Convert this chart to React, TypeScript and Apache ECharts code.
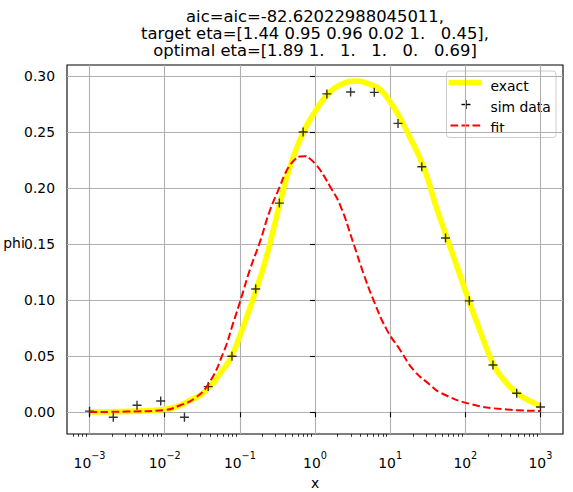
import React, { useEffect, useRef } from "react";
import * as echarts from "echarts";

const FONT = "DejaVu Sans";

const titleLines = [
  "aic=aic=-82.62022988045011,",
  "target eta=[1.44 0.95 0.96 0.02 1.   0.45],",
  "optimal eta=[1.89 1.   1.   1.   0.   0.69]",
];

// x values are stored as log10(x)
const simLogX = [-3, -2.684, -2.368, -2.053, -1.737, -1.421, -1.105, -0.789, -0.474, -0.158, 0.158, 0.474, 0.789, 1.105, 1.421, 1.737, 2.053, 2.368, 2.684, 3];
const simY = [0.001, -0.0045, 0.0063, 0.01, -0.0045, 0.0229, 0.05, 0.11, 0.1866, 0.25, 0.284, 0.2857, 0.2854, 0.2577, 0.219, 0.1554, 0.0994, 0.0422, 0.017, 0.0047];

const exactLogX = [-3, -2.5, -2, -1.8, -1.667, -1.5, -1.356, -1.25, -1.133, -1, -0.8, -0.644, -0.467, -0.333, -0.2, -0.1, 0, 0.156, 0.35, 0.556, 0.75, 0.867, 1, 1.133, 1.25, 1.444, 1.6, 1.756, 1.9, 2.044, 2.2, 2.378, 2.5, 2.689, 2.85, 3];
const exactY = [0.0003, 0.0008, 0.0025, 0.006, 0.0105, 0.0165, 0.0262, 0.0358, 0.047, 0.068, 0.106, 0.139, 0.1866, 0.219, 0.243, 0.257, 0.268, 0.2825, 0.2925, 0.2955, 0.292, 0.2878, 0.277, 0.2625, 0.247, 0.219, 0.186, 0.1554, 0.128, 0.1003, 0.072, 0.0422, 0.030, 0.017, 0.0105, 0.0056];

const fitLogX = [-3, -2.5, -2, -1.8, -1.6, -1.42, -1.222, -1.089, -0.977, -0.867, -0.733, -0.6, -0.467, -0.4, -0.333, -0.267, -0.2, -0.133, -0.067, 0, 0.067, 0.2, 0.333, 0.51, 0.644, 0.777, 0.956, 1.133, 1.31, 1.533, 1.667, 2.067, 2.51, 3];
const fitY = [0.0002, 0.0006, 0.002, 0.006, 0.0125, 0.025, 0.0527, 0.0795, 0.103, 0.127, 0.152, 0.18, 0.2015, 0.2125, 0.2205, 0.2255, 0.2282, 0.2285, 0.2262, 0.2218, 0.2163, 0.2015, 0.185, 0.151, 0.124, 0.1003, 0.0735, 0.0556, 0.0378, 0.0244, 0.0175, 0.0074, 0.0027, 0.0012];

const xTickExponents = [-3, -2, -1, 0, 1, 2, 3];
const yTicks = [0, 0.05, 0.1, 0.15, 0.2, 0.25, 0.3];

const seriesNames = ["exact", "sim data", "fit"];

export default function App() {
  const ref = useRef<HTMLDivElement>(null);
  useEffect(() => {
    const chart = echarts.init(ref.current!, null, { renderer: "svg" });
    const minorTicks: number[] = [];
    for (let n = -4; n <= 3; n++) {
      for (let k = 2; k <= 9; k++) {
        const v = n + Math.log10(k);
        if (v > -3.3 && v < 3.3) minorTicks.push(v);
      }
    }
    const zip = (xs: number[], ys: number[]) => xs.map((x, i) => [x, ys[i]]);
    const plus = "path://M0 5L10 5M5 0L5 10";
    const textStyle = { fontFamily: FONT, fontSize: 13.9, color: "#000" };

    chart.setOption({
      animation: false,
      backgroundColor: "#fff",
      grid: {
        left: 67,
        top: 65,
        right: 10,
        bottom: 58,
        show: true,
        borderColor: "#000",
        borderWidth: 1.1,
        backgroundColor: "transparent",
        containLabel: false,
        outerBoundsMode: "none",
      },
      xAxis: [
        {
          type: "value",
          min: -3.3,
          max: 3.3,
          position: "bottom",
          axisLine: { show: false },
          axisTick: { show: true, customValues: xTickExponents, length: 5, lineStyle: { color: "#000", width: 1.1 } },
          axisLabel: {
            customValues: xTickExponents,
            margin: 16,
            formatter: (v: number) => `{b|10}{s|${String(Math.round(v)).replace("-", "\u2212")}}`,
            rich: {
              b: { fontFamily: FONT, fontSize: 13.9, color: "#000", lineHeight: 20, verticalAlign: "bottom" },
              s: { fontFamily: FONT, fontSize: 9.7, color: "#000", lineHeight: 10, verticalAlign: "top" },
            },
          },
          splitLine: { show: true, lineStyle: { color: "#b0b0b0", width: 1.1 } },
          name: "x",
          nameLocation: "middle",
          nameGap: 42,
          nameTextStyle: textStyle,
        },
        {
          type: "value",
          min: -3.3,
          max: 3.3,
          position: "bottom",
          axisLine: { show: false },
          axisTick: { show: true, customValues: minorTicks, length: 2.8, lineStyle: { color: "#000", width: 0.8 } },
          axisLabel: { show: false },
          splitLine: { show: false },
        },
      ],
      yAxis: {
        type: "value",
        min: -0.0194,
        max: 0.3098,
        axisLine: { show: false },
        axisTick: { show: true, customValues: yTicks, length: 5, lineStyle: { color: "#000", width: 1.1 } },
        axisLabel: {
          customValues: yTicks,
          margin: 12,
          formatter: (v: number) => v.toFixed(2),
          ...textStyle,
        },
        splitLine: { show: true, lineStyle: { color: "#b0b0b0", width: 1.1 } },
      },
      series: [
        {
          name: seriesNames[0],
          type: "line",
          data: zip(exactLogX, exactY),
          smooth: 0.5,
          showSymbol: false,
          lineStyle: { color: "#ffff00", width: 5.6 },
          itemStyle: { color: "#ffff00" },
          z: 2,
        },
        {
          name: seriesNames[1],
          type: "scatter",
          data: zip(simLogX, simY),
          symbol: plus,
          symbolSize: 9,
          itemStyle: { color: "transparent", borderColor: "#000", borderWidth: 1.4 },
          z: 3,
        },
        {
          name: seriesNames[2],
          type: "line",
          data: zip(fitLogX, fitY),
          smooth: 0.5,
          showSymbol: false,
          lineStyle: { color: "#ff0000", width: 2, type: [7.7, 3.3] },
          itemStyle: { color: "#ff0000" },
          z: 4,
        },
      ],
      graphic: [
        ...titleLines.map((t, i) => ({
          type: "text",
          x: 315,
          y: 16 + i * 17,
          z: 10,
          style: {
            text: t,
            fontFamily: FONT,
            fontSize: 16.4,
            fill: "#000",
            align: "center",
            verticalAlign: "middle",
          },
        })),
        {
          type: "text",
          x: 14,
          y: 243,
          z: 10,
          style: { text: "phi", fontFamily: FONT, fontSize: 13.9, fill: "#000", align: "center", verticalAlign: "middle" },
        },
        {
          type: "group",
          z: 20,
          children: [
            {
              type: "rect",
              shape: { x: 446.5, y: 71, width: 109.5, height: 66.5, r: 3 },
              style: { fill: "rgba(255,255,255,0.8)", stroke: "#cccccc", lineWidth: 1 },
            },
            {
              type: "line",
              shape: { x1: 448.5, y1: 82.5, x2: 481.5, y2: 82.5 },
              style: { stroke: "#ffff00", lineWidth: 5.6 },
            },
            {
              type: "line",
              shape: { x1: 461.5, y1: 104.5, x2: 470.5, y2: 104.5 },
              style: { stroke: "#000", lineWidth: 1.4 },
            },
            {
              type: "line",
              shape: { x1: 466, y1: 100, x2: 466, y2: 109 },
              style: { stroke: "#000", lineWidth: 1.4 },
            },
            {
              type: "line",
              shape: { x1: 450.5, y1: 125.5, x2: 481.5, y2: 125.5 },
              style: { stroke: "#ff0000", lineWidth: 2, lineDash: [7.7, 3.3] },
            },
            {
              type: "text",
              x: 490.5,
              y: 85.5,
              style: { text: seriesNames[0], fontFamily: FONT, fontSize: 13.9, fill: "#000", verticalAlign: "middle" },
            },
            {
              type: "text",
              x: 490.5,
              y: 106.5,
              style: { text: seriesNames[1], fontFamily: FONT, fontSize: 13.9, fill: "#000", verticalAlign: "middle" },
            },
            {
              type: "text",
              x: 490.5,
              y: 127.5,
              style: { text: seriesNames[2], fontFamily: FONT, fontSize: 13.9, fill: "#000", verticalAlign: "middle" },
            },
          ],
        },
      ],
    });
    return () => chart.dispose();
  }, []);
  return <div ref={ref} style={{ position: "absolute", left: 0, top: 0, width: 573, height: 492 }} />;
}
